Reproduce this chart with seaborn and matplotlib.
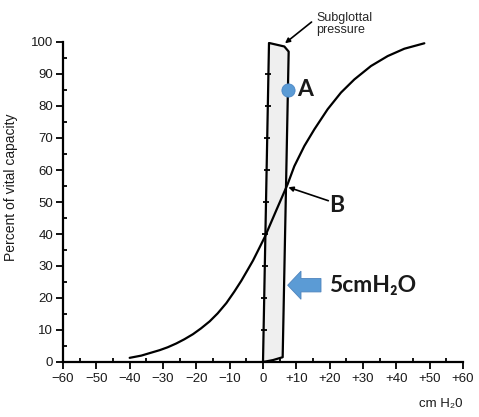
import numpy as np
import pandas as pd
import seaborn as sns
import matplotlib
matplotlib.use("Agg")
import matplotlib.pyplot as plt

# Relaxation pressure curve (cm H2O vs percent of vital capacity)
curve_x = [-40.0, -36.5, -33.6, -31.0, -28.6, -26.0, -23.6, -21.0, -18.6, -16.0,
           -13.6, -11.0, -8.6, -6.5, -4.6, -3.0, -1.6, 0.6, 3.9, 7.4,
           9.4, 12.4, 15.4, 19.4, 23.4, 27.4, 32.4, 37.4, 42.4, 48.4]
curve_y = [1.3, 2.0, 2.9, 3.7, 4.6, 5.8, 7.1, 8.7, 10.5, 12.7,
           15.2, 18.4, 22.0, 25.4, 28.8, 31.7, 34.6, 39.2, 47.2, 55.6,
           61.2, 67.5, 72.7, 79.0, 84.2, 88.3, 92.5, 95.6, 97.9, 99.6]

# Subglottal pressure loop
loop_x = [0.0, 1.8, 6.4, 7.7, 5.9, 3.0, 0.0]
loop_y = [0.0, 99.7, 98.6, 97.0, 1.5, 0.6, 0.0]

# tick marks drawn on the left side of the loop
loop_tick_y = [10, 20, 30, 40, 50, 60, 70, 80, 90]
loop_tick_x = [0.18, 0.36, 0.54, 0.72, 0.90, 1.08, 1.26, 1.44, 1.62]

# points / labels
point_a = (7.6, 85.0)
point_b = (7.6, 54.6)
arrow_5cm = (17.4, 24.0)

xticks = [-60, -50, -40, -30, -20, -10, 0, 10, 20, 30, 40, 50, 60]
xtick_labels = ["\u221260", "\u221250", "\u221240", "\u221230", "\u221220", "\u221210", "0",
                "+10", "+20", "+30", "+40", "+50", "+60"]
yticks = [0, 10, 20, 30, 40, 50, 60, 70, 80, 90, 100]

sns.set_style("ticks")
plt.rcParams['font.family'] = ['Liberation Sans', 'DejaVu Sans']

fig = plt.figure(figsize=(4.79, 4.17), dpi=100)
ax = fig.add_axes([63 / 479, 1 - 362 / 417, 400 / 479, 320 / 417])

curve = pd.DataFrame({"x": curve_x, "y": curve_y})
loop = pd.DataFrame({"x": loop_x, "y": loop_y})

ax.fill(loop["x"], loop["y"], color="#efefef", zorder=1)
sns.lineplot(data=loop, x="x", y="y", sort=False, estimator=None, ax=ax,
             color="black", lw=1.6, zorder=3)
sns.lineplot(data=curve, x="x", y="y", sort=False, estimator=None, ax=ax,
             color="black", lw=1.6, zorder=3)
ax.plot(loop_tick_x, loop_tick_y, ls="", marker="_", ms=5, mew=1.3, color="black", zorder=3)

sns.scatterplot(x=[point_a[0]], y=[point_a[1]], ax=ax, s=90, color="#5B9BD5",
                edgecolor="#4A86C5", linewidth=0.6, zorder=5, clip_on=False)

bold = dict(family=['Lato', 'DejaVu Sans'], fontweight="bold", fontsize=16.5, color="#1a1a1a")
ax.text(10.3, 85.0, "A", ha="left", va="center", **bold)
ax.text(19.7, 48.8, "B", ha="left", va="center", **bold)
ax.text(19.8, 24.0, "5cmH\u2082O", ha="left", va="center", **bold)

ax.arrow(arrow_5cm[0], arrow_5cm[1], 7.4 - arrow_5cm[0], 0, width=4.2, head_width=8.8,
         head_length=4.0, length_includes_head=True, fc="#5B9BD5", ec="#4F84BD",
         lw=0.6, zorder=6)

ax.annotate("", xy=point_b, xytext=(19.6, 50.4),
            arrowprops=dict(arrowstyle="-|>", color="black", lw=1.2,
                            mutation_scale=7, shrinkA=0, shrinkB=0))
ax.annotate("Subglottal\npressure", xy=(6.6, 99.6), xytext=(15.9, 105.6),
            ha="left", va="center", fontsize=9, linespacing=1.05,
            annotation_clip=False,
            arrowprops=dict(arrowstyle="-|>", color="black", lw=1.2,
                            mutation_scale=7, shrinkA=1, shrinkB=0,
                            relpos=(-0.06, 0.62)))

ax.set_xlim(-60, 60)
ax.set_ylim(0, 100)
ax.set_xticks(xticks)
ax.set_xticklabels(xtick_labels)
ax.set_yticks(yticks)
ax.set_xticks(np.arange(-55, 60, 10), minor=True)
ax.set_yticks(np.arange(5, 100, 10), minor=True)
ax.tick_params(axis="both", which="major", direction="out", length=5, width=1.3,
               labelsize=9.5, color="black", labelcolor="#1a1a1a", pad=2)
ax.tick_params(axis="both", which="minor", direction="in", length=3, width=1.3, color="black")
ax.tick_params(axis="x", which="major", pad=3)

sns.despine(ax=ax)
for s in ["left", "bottom"]:
    ax.spines[s].set_linewidth(1.6)
    ax.spines[s].set_color("black")

ax.set_ylabel("Percent of vital capacity", fontsize=10, color="#1a1a1a")
ax.yaxis.set_label_coords(-0.112, 0.545)
ax.set_xlabel("cm H\u20820", fontsize=9.5, color="#1a1a1a", ha="right")
ax.xaxis.set_label_coords(0.998, -0.112)

fig.savefig("out.png", dpi=100, facecolor="white")
